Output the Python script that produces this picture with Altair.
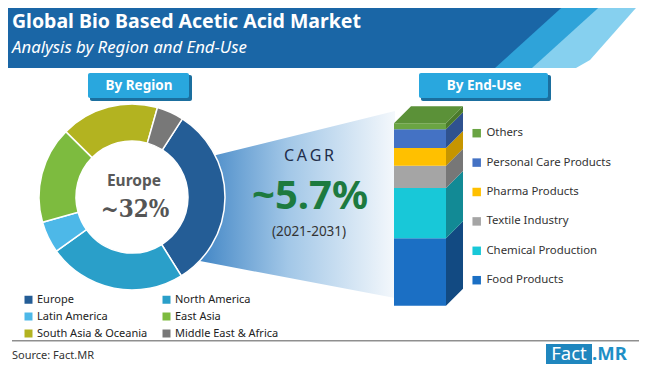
import math
import altair as alt
import pandas as pd

# ---------------- data ----------------
regions = ["Europe", "North America", "Latin America", "East Asia",
           "South Asia & Oceania", "Middle East & Africa"]
region_share = [32.0, 24.0, 5.5, 16.8, 17.0, 4.7]
region_colors = ["#245d96", "#2a9fc9", "#4db8e8", "#7dbb3f", "#b3b320", "#787878"]
# legend is filled column by column: this order reads row by row like the original
legend_order = [0, 2, 4, 1, 3, 5]

end_uses = ["Food Products", "Chemical Production", "Textile Industry",
            "Pharma Products", "Personal Care Products", "Others"]
end_use_share = [37.0, 27.5, 12.2, 9.7, 10.4, 3.2]
front_colors = ["#1b6fc4", "#18c8d8", "#a5a5a5", "#ffc000", "#4472c4", "#6aa443"]
side_colors = ["#124a82", "#128a95", "#777777", "#c69500", "#2f528f", "#4b7a2c"]
top_color = "#5b9138"

title = "Global Bio Based Acetic Acid Market"
subtitle = "Analysis by Region and End-Use"
lead_region = "Europe"
lead_share = "~32%"
cagr_label = "C\u2009A\u2009G\u2009R"
cagr_value = "~5.7%"
period = "(2021-2031)"
source = "Source: Fact.MR"

# ---------------- layout ----------------
# the page has an 8px margin: chart coordinates are the original ones minus 8
W, H = 634, 358
OFF = 8


def X(v):
    return v - OFF


def Y(v):
    return v - OFF


PXS = alt.Scale(domain=[OFF, OFF + W], range=[0, W], nice=False, zero=False)
PYS = alt.Scale(domain=[OFF, OFF + H], range=[0, H], nice=False, zero=False)
one = pd.DataFrame({"k": [0]})
FONT = "Noto Sans"

layers = []

# header band with diagonal stripes
stripes = [
    ("#86d0ef", [0, 60, 68], [643, 590, 576]),
    ("#2fa3d9", [0, 68], [607, 532]),
    ("#1a66a6", [0, 68], [570, 495]),
]
for col, ys, xs in stripes:
    layers.append(
        alt.Chart(pd.DataFrame({"y": ys, "x": xs}))
        .mark_area(orient="horizontal", color=col)
        .encode(y=alt.Y("y:Q", scale=PYS, axis=None),
                x=alt.X("x:Q", scale=PXS, axis=None),
                x2=alt.value(0))
    )


def text(t, x, y, size, color="#333333", weight="normal", align="left",
         baseline="alphabetic", font=FONT, style="normal"):
    return alt.Chart(one).mark_text(
        text=t, align=align, baseline=baseline, font=font, fontSize=size,
        fontWeight=weight, color=color, fontStyle=style
    ).encode(x=alt.value(X(x)), y=alt.value(Y(y)))


def rect(x1, x2, y1, y2, color, radius=0):
    return alt.Chart(one).mark_rect(color=color, cornerRadius=radius).encode(
        x=alt.value(X(x1)), x2=alt.value(X(x2)), y=alt.value(Y(y1)), y2=alt.value(Y(y2)))


layers.append(text(title, 12, 28, 19.5, "white", "bold"))
layers.append(text(subtitle, 12, 53, 16.8, "white", style="italic"))

# section boxes
layers.append(rect(90, 192, 75, 101, "#1b6f9f", 2))
layers.append(rect(88, 189, 73, 98, "#29a7de", 2))
layers.append(text("By Region", 139, 86, 13.5, "white", "bold", "center", "middle"))
layers.append(rect(421, 551, 75, 101, "#1b6f9f", 2))
layers.append(rect(419, 548, 73, 98, "#29a7de", 2))
layers.append(text("By End-Use", 484, 86, 13.5, "white", "bold", "center", "middle"))

# funnel
grad = alt.Gradient(
    gradient="linear", x1=0, x2=1, y1=0, y2=0,
    stops=[alt.GradientStop(offset=0, color="#4387c6"),
           alt.GradientStop(offset=0.45, color="#a2c7e7"),
           alt.GradientStop(offset=1, color="#f4f8fc")])
layers.append(
    alt.Chart(pd.DataFrame({"x": [200, 395], "top": [159, 111], "bot": [261, 298]}))
    .mark_area(orient="vertical", color=grad)
    .encode(x=alt.X("x:Q", scale=PXS, axis=None),
            y=alt.Y("top:Q", scale=PYS, axis=None), y2="bot:Q")
)

# donut
df_region = pd.DataFrame({"region": regions, "share": region_share,
                          "idx": list(range(len(regions)))})
a0 = math.radians(32.8)
donut = alt.Chart(df_region).mark_arc(
    innerRadius=56, outerRadius=93, stroke="white", strokeWidth=1.5
).encode(
    theta=alt.Theta("share:Q", stack=True,
                    scale=alt.Scale(domain=[0, 100], range=[a0, a0 + 2 * math.pi])),
    color=alt.Color("region:N",
                    scale=alt.Scale(domain=[regions[i] for i in legend_order],
                                    range=[region_colors[i] for i in legend_order]),
                    legend=alt.Legend(orient="none", legendX=X(23), legendY=X(294),
                                      columns=2, title=None, symbolType="square",
                                      symbolSize=64, symbolStrokeWidth=0,
                                      labelFont=FONT, labelFontSize=11,
                                      labelColor="#222222", columnPadding=13,
                                      rowPadding=5, labelOffset=3, padding=0,
                                      fillColor="transparent")),
    order=alt.Order("idx:Q"),
    x=alt.value(X(132)), y=alt.value(Y(197)),
)
layers.append(donut)
layers.append(text(lead_region, 134, 186, 15.5, "#595959", "bold", "center"))
layers.append(text(lead_share, 135, 217, 24, "#555555", "bold", "center",
                   font="DejaVu Serif Condensed"))

# CAGR texts
layers.append(text(cagr_label, 309, 161, 16, "#1f2d4a", "normal", "center"))
layers.append(text(cagr_value, 310, 209, 40, "#1d7a3f", "bold", "center"))
layers.append(text(period, 309, 236, 13.5, "#333333", "normal", "center"))

# 3-D stacked bar
df_end = pd.DataFrame({"end_use": end_uses, "value": end_use_share,
                       "idx": list(range(len(end_uses)))})
RISE = 9.32   # depth of the bar expressed in value units
DEPTH = 0.327  # depth of the bar relative to its front width
xbar = alt.Scale(domain=[0, 1], range=[X(394), X(446)], nice=False, zero=False)
ybar = alt.Scale(domain=[0, 100], range=[Y(305.7), Y(123.3)], nice=False, zero=False)

stacked = alt.Chart(df_end).transform_window(
    cum="sum(value)", sort=[alt.SortField("idx", order="ascending")], frame=[None, 0]
).transform_calculate(start="datum.cum - datum.value")

front = stacked.mark_rect().encode(
    x=alt.value(X(394)), x2=alt.value(X(446)),
    y=alt.Y("start:Q", scale=ybar, axis=None), y2="cum:Q",
    color=alt.Color("end_use:N",
                    scale=alt.Scale(domain=end_uses[::-1], range=front_colors[::-1]),
                    legend=alt.Legend(orient="none", legendX=X(471), legendY=Y(127.5),
                                      direction="vertical", title=None,
                                      symbolType="square", symbolSize=72,
                                      symbolStrokeWidth=0, labelFont=FONT,
                                      labelFontSize=11.4, labelColor="#333333",
                                      rowPadding=16.4, labelOffset=4, padding=0,
                                      fillColor="transparent")),
)

side = stacked.transform_calculate(pts="[0, 1]").transform_flatten(["pts"]).transform_calculate(
    xs=f"1 + datum.pts * {DEPTH}",
    ylo=f"datum.start + datum.pts * {RISE}",
    yhi=f"datum.cum + datum.pts * {RISE}",
).mark_area(orient="vertical").encode(
    x=alt.X("xs:Q", scale=xbar, axis=None),
    y=alt.Y("ylo:Q", scale=ybar, axis=None), y2="yhi:Q",
    color=alt.Color("end_use:N", scale=alt.Scale(domain=end_uses, range=side_colors),
                    legend=None),
    detail="end_use:N",
)

top = alt.Chart(df_end).transform_aggregate(total="sum(value)").transform_calculate(
    pts="[0, 1]").transform_flatten(["pts"]).transform_calculate(
    yy=f"datum.total + datum.pts * {RISE}",
    xa=f"datum.pts * {DEPTH}",
    xb=f"1 + datum.pts * {DEPTH}",
).mark_area(orient="horizontal", color=top_color).encode(
    y=alt.Y("yy:Q", scale=ybar, axis=None),
    x=alt.X("xa:Q", scale=xbar, axis=None), x2="xb:Q",
)

bar3d = alt.layer(front, side, top).resolve_scale(color="independent")
layers.append(bar3d)

# footer
layers.append(text(source, 12, 359, 11, "#333333"))
layers.append(rect(546, 592, 344, 364, "#1f86be"))
layers.append(text("Fact", 569, 360, 18.5, "white", "normal", "center"))
layers.append(text(".MR", 592, 360, 18.5, "#1f8fc6", "bold", "left"))
# footer separator line
layers.append(
    alt.Chart(pd.DataFrame({"x": [12], "x2": [639], "y": [340], "y2": [341.5]}))
    .mark_rect(color="#8f8f8f")
    .encode(x=alt.X("x:Q", scale=PXS, axis=None), x2="x2:Q",
            y=alt.Y("y:Q", scale=PYS, axis=None), y2="y2:Q")
)

chart = alt.layer(*layers).resolve_scale(
    x="independent", y="independent", color="independent"
).properties(
    width=W, height=H, padding=0, autosize="none", background="white"
).configure_view(stroke=None)

chart.save("out.html", embed_options={"renderer": "svg", "actions": False})
